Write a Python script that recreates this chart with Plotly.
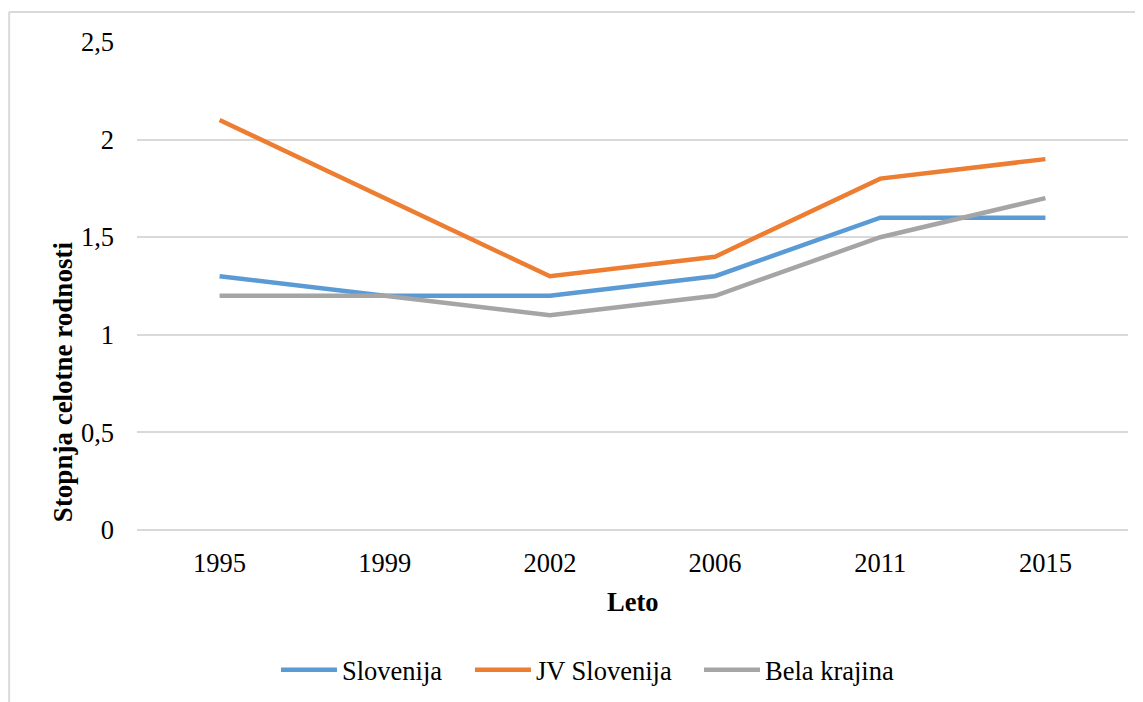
import plotly.graph_objects as go

years = ["1995", "1999", "2002", "2006", "2011", "2015"]
slovenija = [1.3, 1.2, 1.2, 1.3, 1.6, 1.6]
jv_slovenija = [2.1, 1.7, 1.3, 1.4, 1.8, 1.9]
bela_krajina = [1.2, 1.2, 1.1, 1.2, 1.5, 1.7]

font = "Liberation Serif, Times New Roman, serif"

fig = go.Figure()
series = [
    ("Slovenija", slovenija, "#5B9BD5", "legend"),
    ("JV Slovenija", jv_slovenija, "#ED7D31", "legend2"),
    ("Bela krajina", bela_krajina, "#A5A5A5", "legend3"),
]
for name, vals, color, leg in series:
    fig.add_trace(go.Scatter(x=years, y=vals, name=name, mode="lines", legend=leg,
                             line=dict(color=color, width=4.5)))

def legend_at(x):
    return dict(orientation="h", xref="container", yref="container", x=x, xanchor="left",
                y=0.046, yanchor="middle", itemwidth=56, bgcolor="rgba(0,0,0,0)",
                font=dict(family=font, size=26.5, color="black"))

# page body has an 8px margin, so the figure is 8px smaller than the window
fig.update_layout(
    width=1135, height=694,
    margin=dict(l=129, r=15, t=34, b=172, autoexpand=False),
    plot_bgcolor="white", paper_bgcolor="white",
    font=dict(family=font, size=26.5, color="black"),
    separators=",.",
    showlegend=True,
    legend=legend_at(0.2361),
    legend2=legend_at(0.4070),
    legend3=legend_at(0.6088),
)
fig.update_xaxes(type="category", range=[-0.5, 5.5], showgrid=False, showline=False,
                 ticks="", ticklabelstandoff=14)
fig.update_yaxes(range=[0, 2.5], dtick=0.5, showgrid=True, gridcolor="#D9D9D9",
                 gridwidth=1.5, zeroline=True, zerolinecolor="#D9D9D9", zerolinewidth=1.5,
                 showline=False, ticks="", ticklabelstandoff=22)

fig.add_annotation(text="<b>Leto</b>", xref="paper", yref="paper", x=0.5, y=-0.148,
                   showarrow=False, font=dict(family=font, size=26.5), yanchor="middle")
fig.add_annotation(text="<b>Stopnja celotne rodnosti</b>", xref="paper", yref="paper",
                   x=-0.0747, y=0.305, textangle=-90, showarrow=False,
                   font=dict(family=font, size=27), xanchor="center", yanchor="middle")

# chart area border (only top and left edges are visible in the crop)
fig.add_shape(type="line", xref="paper", yref="paper", x0=-0.129, x1=1.2, y0=1.0615, y1=1.0615,
              line=dict(color="#D9D9D9", width=2))
fig.add_shape(type="line", xref="paper", yref="paper", x0=-0.129, x1=-0.129, y0=-0.5, y1=1.0615,
              line=dict(color="#D9D9D9", width=2))

fig.write_html("out.html")
